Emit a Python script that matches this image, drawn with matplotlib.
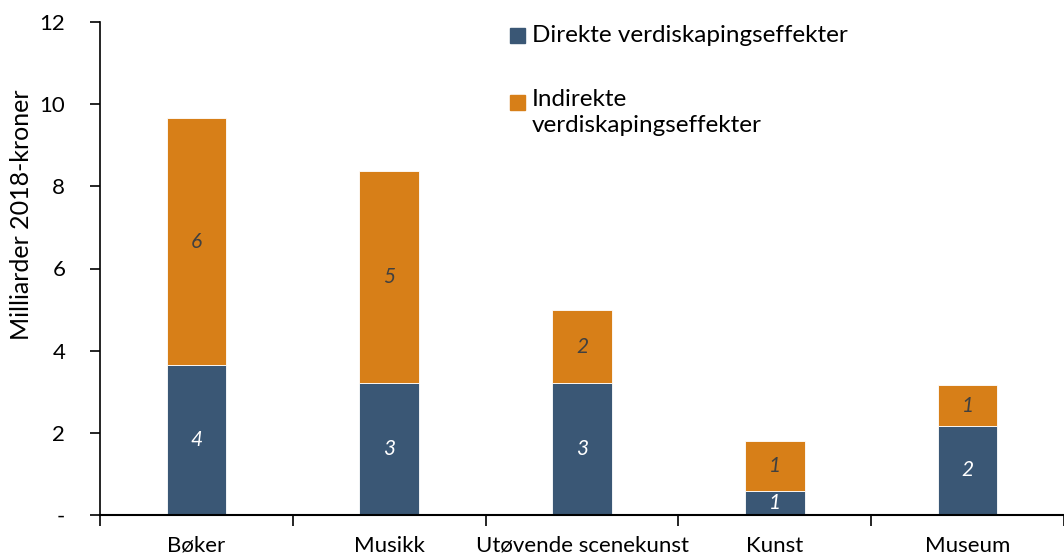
import matplotlib
matplotlib.use("Agg")
import matplotlib.pyplot as plt
from matplotlib.patches import Rectangle

categories = ["Bøker", "Musikk", "Utøvende scenekunst", "Kunst", "Museum"]
direct = [3.64, 3.21, 3.21, 0.58, 2.17]
indirect = [6.02, 5.16, 1.78, 1.22, 0.99]
direct_labels = ["4", "3", "3", "1", "2"]
indirect_labels = ["6", "5", "2", "1", "1"]
yticks = [0, 2, 4, 6, 8, 10, 12]
ytick_labels = ["-", "2", "4", "6", "8", "10", "12"]
legend_labels = ["Direkte verdiskapingseffekter", "Indirekte\nverdiskapingseffekter"]

blue = "#3A5775"
orange = "#D77F18"
plt.rcParams['font.family'] = ['Lato', 'DejaVu Sans']

fig = plt.figure(figsize=(10.64, 5.59), dpi=100)
W, H = 1064, 559
left_px, right_px, bottom_px, top_px = 100, 1064, 515, 22
ax = fig.add_axes([left_px / W, (H - bottom_px) / H, (right_px - left_px) / W, (bottom_px - top_px) / H])

x = list(range(len(categories)))
bw = 0.31
ax.bar(x, direct, width=bw, color=blue, edgecolor="white", linewidth=0.6, zorder=2)
ax.bar(x, indirect, width=bw, bottom=direct, color=orange, edgecolor="white", linewidth=0.6, zorder=2)

for i in x:
    ax.text(i, direct[i] / 2, direct_labels[i], ha="center", va="center",
            color="white", fontsize=15, style="italic")
    ax.text(i, direct[i] + indirect[i] / 2, indirect_labels[i], ha="center", va="center",
            color="#404040", fontsize=15, style="italic")

ax.set_ylim(0, 12)
ax.set_xlim(-0.5, -0.5 + len(categories) * (right_px - left_px) / 970)
ax.set_yticks(yticks)
ax.set_yticklabels(ytick_labels, fontsize=16)
ax.set_xticks(x)
ax.set_xticklabels(categories, fontsize=16)
ax.set_xticks([i - 0.5 for i in range(len(categories) + 1)], minor=True)
ax.tick_params(axis="x", which="major", length=0, pad=15)
ax.tick_params(axis="x", which="minor", length=8, width=1.2, direction="out")
ax.tick_params(axis="y", length=7, width=1.2, direction="out", pad=18)

for s in ["top", "right"]:
    ax.spines[s].set_visible(False)
ax.spines["left"].set_linewidth(1.2)
ax.spines["bottom"].set_linewidth(1.5)

ax.set_ylabel("Milliarder 2018-kroner", fontsize=18, va="center")
ax.yaxis.set_label_coords(22 / W, (H - 215) / H, transform=fig.transFigure)

# legend
for (ypx, col, lab) in [(36, blue, legend_labels[0]), (103, orange, legend_labels[1])]:
    fig.patches.append(Rectangle(((510) / W, (H - ypx - 7) / H), 15 / W, 15 / H,
                                 transform=fig.transFigure, color=col, figure=fig))
    fig.text(532 / W, (H - ypx) / H, lab, fontsize=17.5, va="top" if "\n" in lab else "center",
             ha="left", linespacing=1.3)

# adjust multi-line label position
fig.texts[-1].set_y((H - 89) / H)

fig.savefig("out.png", dpi=100)
